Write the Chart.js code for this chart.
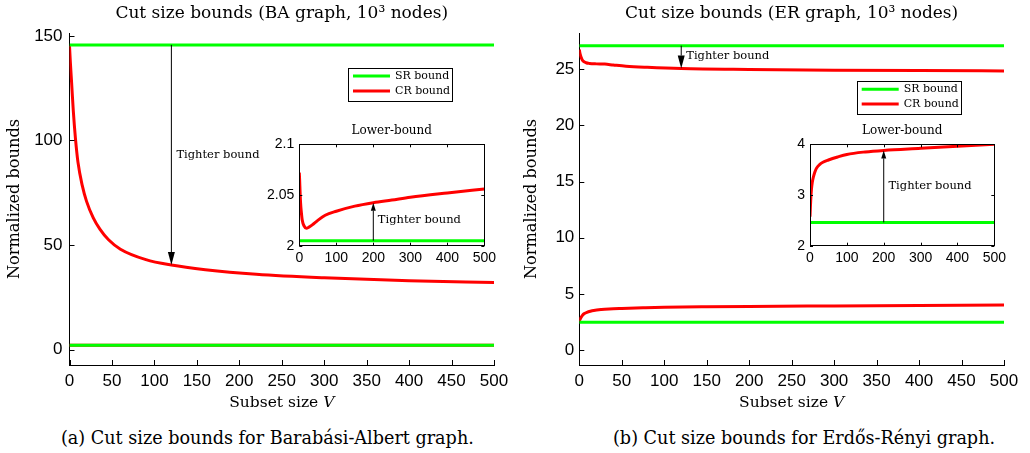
<!DOCTYPE html>
<html>
<head>
<meta charset="utf-8">
<script src="https://cdn.jsdelivr.net/npm/chart.js@4.4.1/dist/chart.umd.min.js"></script>
<style>
  html, body { margin: 0; padding: 0; background: #fff; }
  #wrap { position: relative; width: 1030px; height: 453px; overflow: hidden; background: #fff; }
  canvas { position: absolute; }
  .cap { position: absolute; font-family: "DejaVu Serif", "Liberation Serif", serif; font-size: 17.6px; line-height: 24px; color: #000; white-space: nowrap; top: 426px; }
</style>
</head>
<body>
<div id="wrap">
  <canvas id="baMain" width="515" height="420" style="left:0;top:0"></canvas>
  <canvas id="erMain" width="515" height="420" style="left:515px;top:0"></canvas>
  <canvas id="baInset" width="270" height="160" style="left:230px;top:110px"></canvas>
  <canvas id="erInset" width="270" height="160" style="left:740px;top:110px"></canvas>
  <div class="cap" style="left:61px">(a) Cut size bounds for Barabási-Albert graph.</div>
  <div class="cap" style="left:613px">(b) Cut size bounds for Erdős-Rényi graph.</div>
</div>
<script>
// ---------------- DATA ----------------
const xTicksMain  = [0, 50, 100, 150, 200, 250, 300, 350, 400, 450, 500];
const xTicksInset = [0, 100, 200, 300, 400, 500];
const baYTicks      = [0, 50, 100, 150];
const erYTicks      = [0, 5, 10, 15, 20, 25];
const baInsetYTicks = [2, 2.05, 2.1];
const erInsetYTicks = [2, 3, 4];

// SR bound (constant lines)
const srV        = [0, 500];
const baSRUpper  = [145.7, 145.7];
const baSRLower  = [2.005, 2.005];
const erSRUpper  = [27.1, 27.1];
const erSRLower  = [2.46, 2.46];

// CR bound, BA graph
const baUpV     = [0, 1, 2.5, 4.5, 7, 10, 15, 20, 28, 36, 46, 60, 90, 120, 160, 220, 300, 400, 500];
const baCRUpper = [145.3, 137.5, 127.5, 114, 101, 89.5, 78.5, 71, 63, 57.5, 52.5, 48, 43, 40.4, 38.2, 36, 34.3, 32.9, 32.1];
const baLowV    = [0, 1, 2, 3.5, 5.5, 8, 13, 19, 25, 35, 50, 70, 100, 150, 200, 250, 300, 400, 500];
const baCRLower = [2.072, 2.064, 2.054, 2.042, 2.033, 2.025, 2.0194, 2.0172, 2.018, 2.0205, 2.025, 2.030, 2.034, 2.039, 2.0424, 2.045, 2.0477, 2.052, 2.056];

// CR bound, ER graph
const erUpV     = [0, 1, 3, 5, 8, 12, 20, 30, 40, 55, 80, 120, 200, 300, 400, 500];
const erCRUpper = [26.75, 26.35, 25.9, 25.7, 25.58, 25.52, 25.48, 25.46, 25.38, 25.27, 25.17, 25.06, 24.98, 24.92, 24.88, 24.85];
const erLowV    = [0, 1, 2, 4, 6, 9, 13, 17, 26, 35, 50, 75, 100, 150, 200, 300, 400, 500];
const erCRLower = [2.57, 2.75, 2.9, 3.12, 3.24, 3.35, 3.45, 3.52, 3.6, 3.645, 3.69, 3.75, 3.80, 3.85, 3.88, 3.92, 3.96, 4.0];

const legendLabels = ['SR bound', 'CR bound'];
const mainArrowV  = 120;
const insetArrowV = 200;

// ---------------- STYLE ----------------
const SERIF = '"DejaVu Serif", "Liberation Serif", serif';
const SANS  = '"Liberation Sans", Arial, sans-serif';
const GREEN = '#00ff00';
const RED   = '#ff0000';

function pts(xs, ys) { return xs.map((v, i) => ({ x: v, y: ys[i] })); }
function lineDs(label, xs, ys, color, inLegend) {
  return { label, data: pts(xs, ys), borderColor: color, backgroundColor: color,
           borderWidth: 3, pointRadius: 0, fill: false, cubicInterpolationMode: 'monotone',
           showInLegend: inLegend };
}
const fixW = w => s => { s.width = w; };
const fixH = h => s => { s.height = h; };
const setTicks = arr => s => { s.ticks = arr.map(v => ({ value: v })); };

// ---------------- DECOR PLUGIN ----------------
const decor = {
  id: 'decor',
  beforeDatasetsDraw(chart, args, o) {
    if (!o.fillArea) return;
    const { ctx, chartArea: a } = chart;
    ctx.save();
    ctx.fillStyle = '#fff';
    ctx.fillRect(a.left, a.top, a.right - a.left, a.bottom - a.top);
    ctx.restore();
  },
  afterDraw(chart, args, o) {
    const { ctx, chartArea: a, scales: { x, y } } = chart;
    ctx.save();
    ctx.strokeStyle = '#000';
    ctx.fillStyle = '#000';
    ctx.lineWidth = 1;
    const seg = (x1, y1, x2, y2) => { ctx.beginPath(); ctx.moveTo(x1, y1); ctx.lineTo(x2, y2); ctx.stroke(); };
    const tl = o.tickLen || 5;
    x.ticks.forEach(t => {
      const px = Math.round(x.getPixelForValue(t.value)) + 0.5;
      seg(px, a.bottom, px, a.bottom - tl);
      if (o.box) seg(px, a.top, px, a.top + tl);
    });
    y.ticks.forEach(t => {
      const py = Math.round(y.getPixelForValue(t.value)) + 0.5;
      seg(a.left, py, a.left + tl, py);
      if (o.box) seg(a.right, py, a.right - tl, py);
    });
    if (o.box) {
      ctx.strokeRect(Math.round(a.left) + 0.5, Math.round(a.top) + 0.5,
                     Math.round(a.right - a.left), Math.round(a.bottom - a.top));
    }
    (o.arrows || []).forEach(ar => {
      const px = x.getPixelForValue(ar.v);
      const p1 = y.getPixelForValue(ar.from);
      const p2 = y.getPixelForValue(ar.to);
      const dir = p2 > p1 ? 1 : -1;
      const hl = ar.headLen, hw = ar.headW;
      ctx.strokeStyle = '#000'; ctx.lineWidth = 1;
      seg(px, p1, px, p2 - dir * hl);
      ctx.fillStyle = '#000';
      ctx.beginPath();
      ctx.moveTo(px, p2);
      ctx.lineTo(px - hw / 2, p2 - dir * hl);
      ctx.lineTo(px + hw / 2, p2 - dir * hl);
      ctx.closePath();
      ctx.fill();
      ctx.font = ar.fontSize + 'px ' + SERIF;
      ctx.textAlign = 'left';
      ctx.textBaseline = 'middle';
      ctx.fillText(ar.text, px + ar.dx, y.getPixelForValue(ar.textY));
    });
    if (o.legend) {
      const L = o.legend;
      const bx = a.right - L.right - L.w, by = a.top + L.top;
      ctx.fillStyle = '#fff';
      ctx.fillRect(bx, by, L.w, L.h);
      ctx.strokeStyle = '#000';
      ctx.lineWidth = 1;
      ctx.strokeRect(Math.round(bx) + 0.5, Math.round(by) + 0.5, L.w, L.h);
      const items = chart.data.datasets.filter(d => d.showInLegend);
      items.forEach((d, i) => {
        const ry = by + L.rowY[i];
        ctx.strokeStyle = d.borderColor;
        ctx.lineWidth = 3;
        seg(bx + 5, ry, bx + 42, ry);
        ctx.fillStyle = '#000';
        ctx.font = '11px ' + SERIF;
        ctx.textAlign = 'left';
        ctx.textBaseline = 'middle';
        ctx.fillText(legendLabels[i], bx + 47, ry);
      });
    }
    if (o.xTitle) {
      const T = o.xTitle;
      const fs = T.size + 'px ' + SERIF;
      const fi = 'italic ' + T.size + 'px ' + SERIF;
      ctx.fillStyle = '#000';
      ctx.textBaseline = 'middle';
      ctx.textAlign = 'left';
      ctx.font = fs;
      const w1 = ctx.measureText(T.text).width;
      ctx.font = fi;
      const w2 = ctx.measureText(T.italic).width;
      const cx = (a.left + a.right) / 2;
      const ty = a.bottom + T.dy;
      ctx.font = fs;
      ctx.fillText(T.text, cx - (w1 + w2) / 2, ty);
      ctx.font = fi;
      ctx.fillText(T.italic, cx - (w1 + w2) / 2 + w1, ty);
    }
    ctx.restore();
  }
};

function axisCommon(fontSize, pad) {
  return {
    grid: { display: false, drawTicks: false, drawOnChartArea: false },
    border: { display: true, color: '#000', width: 1 },
    ticks: { font: { family: SANS, size: fontSize }, color: '#000', padding: pad,
             maxRotation: 0, autoSkip: false, callback: v => String(+Number(v).toFixed(3)) }
  };
}

function mainChart(id, c) {
  const xAx = axisCommon(17, 6);
  const yAx = axisCommon(17, c.yLabelPad);
  return new Chart(document.getElementById(id), {
    type: 'line',
    data: { datasets: c.datasets },
    options: {
      responsive: false, animation: false, devicePixelRatio: 1,
      layout: { padding: { left: 0, top: 0, right: c.padRight, bottom: 0 } },
      plugins: {
        legend: { display: false }, tooltip: { enabled: false },
        title: { display: true, text: c.title, fullSize: false, color: '#000',
                 font: { family: SERIF, size: 17, weight: 'normal', lineHeight: 1.2 }, padding: { top: 3.8, bottom: 8.8 } },
        decor: c.decor
      },
      scales: {
        x: Object.assign(xAx, { type: 'linear', min: 0, max: 500,
             afterBuildTicks: setTicks(xTicksMain), afterFit: fixH(55) }),
        y: Object.assign(yAx, { type: 'linear', min: c.yMin, max: c.yMax,
             afterBuildTicks: setTicks(c.yTicks), afterFit: fixW(c.yWidth),
             title: { display: true, text: 'Normalized bounds', color: '#000',
                      font: { family: SERIF, size: 16.2, weight: 'normal', lineHeight: 1.2 }, padding: { top: c.yTitlePad, bottom: 0 } } })
      }
    },
    plugins: [decor]
  });
}

function insetChart(id, c) {
  const xAx = axisCommon(14, 4);
  const yAx = axisCommon(14, 5);
  return new Chart(document.getElementById(id), {
    type: 'line',
    data: { datasets: c.datasets },
    options: {
      responsive: false, animation: false, devicePixelRatio: 1,
      layout: { padding: { left: 0, top: 0, right: 8.7, bottom: 0 } },
      plugins: {
        legend: { display: false }, tooltip: { enabled: false },
        title: { display: true, text: 'Lower-bound', fullSize: false, color: '#000',
                 font: { family: SERIF, size: 12, weight: 'normal', lineHeight: 1.2 }, padding: { top: 13.8, bottom: 6.1 } },
        decor: c.decor
      },
      scales: {
        x: Object.assign(xAx, { type: 'linear', min: 0, max: 500,
             afterBuildTicks: setTicks(xTicksInset), afterFit: fixH(24.3) }),
        y: Object.assign(yAx, { type: 'linear', min: c.yMin, max: c.yMax,
             afterBuildTicks: setTicks(c.yTicks), afterFit: fixW(c.yWidth) })
      }
    },
    plugins: [decor]
  });
}

// ---------------- CHARTS ----------------
mainChart('baMain', {
  title: 'Cut size bounds (BA graph, 10³ nodes)',
  yMin: -7.4, yMax: 151.4, yTicks: baYTicks, yWidth: 69.5, yTitlePad: 4.8, yLabelPad: 7, padRight: 21,
  datasets: [
    lineDs('SR bound', srV, baSRUpper, GREEN, true),
    lineDs('SR bound (lower)', srV, baSRLower, GREEN, false),
    lineDs('CR bound', baUpV, baCRUpper, RED, true),
    lineDs('CR bound (lower)', baLowV, baCRLower, RED, false)
  ],
  decor: {
    tickLen: 5,
    arrows: [{ v: mainArrowV, from: baSRUpper[0], to: baCRUpper[baUpV.indexOf(mainArrowV)],
               headLen: 13, headW: 7, text: 'Tighter bound', textY: 93, dx: 5, fontSize: 11.5 }],
    legend: { right: 42, top: 35, w: 104, h: 33, rowY: [8, 23] },
    xTitle: { text: 'Subset size ', italic: 'V', dy: 38, size: 15.5 }
  }
});

mainChart('erMain', {
  title: 'Cut size bounds (ER graph, 10³ nodes)',
  yMin: -1.34, yMax: 28.23, yTicks: erYTicks, yWidth: 64.3, yTitlePad: 7.3, yLabelPad: 5, padRight: 26,
  datasets: [
    lineDs('SR bound', srV, erSRUpper, GREEN, true),
    lineDs('SR bound (lower)', srV, erSRLower, GREEN, false),
    lineDs('CR bound', erUpV, erCRUpper, RED, true),
    lineDs('CR bound (lower)', erLowV, erCRLower, RED, false)
  ],
  decor: {
    tickLen: 5,
    arrows: [{ v: mainArrowV, from: erSRUpper[0], to: erCRUpper[erUpV.indexOf(mainArrowV)],
               headLen: 13, headW: 7, text: 'Tighter bound', textY: 26.18, dx: 5, fontSize: 11.5 }],
    legend: { right: 43.3, top: 47.7, w: 104, h: 33, rowY: [8.6, 23.3] },
    xTitle: { text: 'Subset size ', italic: 'V', dy: 38, size: 15.5 }
  }
});

insetChart('baInset', {
  yMin: 2, yMax: 2.1, yTicks: baInsetYTicks, yWidth: 69.3,
  datasets: [
    lineDs('SR bound', srV, baSRLower, GREEN, false),
    lineDs('CR bound', baLowV, baCRLower, RED, false)
  ],
  decor: {
    tickLen: 3, box: true, fillArea: true,
    arrows: [{ v: insetArrowV, from: baSRLower[0], to: baCRLower[baLowV.indexOf(insetArrowV)],
               headLen: 8, headW: 5, text: 'Tighter bound', textY: 2.0253, dx: 4.5, fontSize: 11.5 }]
  }
});

insetChart('erInset', {
  yMin: 2, yMax: 4, yTicks: erInsetYTicks, yWidth: 70,
  datasets: [
    lineDs('SR bound', srV, erSRLower, GREEN, false),
    lineDs('CR bound', erLowV, erCRLower, RED, false)
  ],
  decor: {
    tickLen: 3, box: true, fillArea: true,
    arrows: [{ v: insetArrowV, from: erSRLower[0], to: erCRLower[erLowV.indexOf(insetArrowV)],
               headLen: 8, headW: 5, text: 'Tighter bound', textY: 3.183, dx: 4.7, fontSize: 11.5 }]
  }
});
</script>
</body>
</html>
